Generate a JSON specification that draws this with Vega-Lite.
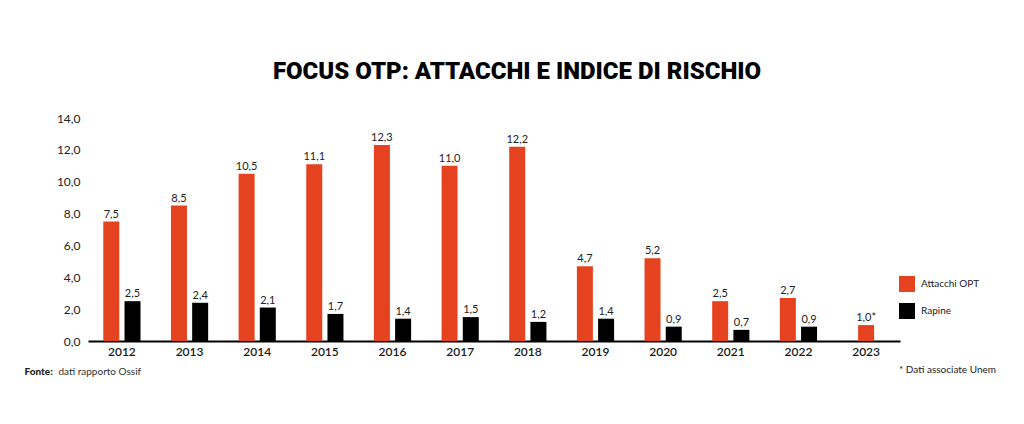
{
  "$schema": "https://vega.github.io/schema/vega-lite/v6.json",
  "autosize": {"type": "none"},
  "padding": {"left": 88, "top": 118, "right": 124, "bottom": 83},
  "width": 812,
  "height": 223,
  "background": "white",
  "title": {
    "text": "FOCUS OTP: ATTACCHI E INDICE DI RISCHIO",
    "font": "Roboto",
    "fontWeight": 900,
    "fontSize": 24,
    "letterSpacing": 0.5,
    "color": "#000000",
    "anchor": "middle",
    "dx": 23,
    "offset": 28
  },
  "data": {
    "values": [
      {"year": "2012", "series": "Attacchi OPT", "value": 7.5},
      {"year": "2012", "series": "Rapine", "value": 2.5},
      {"year": "2013", "series": "Attacchi OPT", "value": 8.5},
      {"year": "2013", "series": "Rapine", "value": 2.4},
      {"year": "2014", "series": "Attacchi OPT", "value": 10.5},
      {"year": "2014", "series": "Rapine", "value": 2.1},
      {"year": "2015", "series": "Attacchi OPT", "value": 11.1},
      {"year": "2015", "series": "Rapine", "value": 1.7},
      {"year": "2016", "series": "Attacchi OPT", "value": 12.3},
      {"year": "2016", "series": "Rapine", "value": 1.4},
      {"year": "2017", "series": "Attacchi OPT", "value": 11.0},
      {"year": "2017", "series": "Rapine", "value": 1.5},
      {"year": "2018", "series": "Attacchi OPT", "value": 12.2},
      {"year": "2018", "series": "Rapine", "value": 1.2},
      {"year": "2019", "series": "Attacchi OPT", "value": 4.7},
      {"year": "2019", "series": "Rapine", "value": 1.4},
      {"year": "2020", "series": "Attacchi OPT", "value": 5.2},
      {"year": "2020", "series": "Rapine", "value": 0.9},
      {"year": "2021", "series": "Attacchi OPT", "value": 2.5},
      {"year": "2021", "series": "Rapine", "value": 0.7},
      {"year": "2022", "series": "Attacchi OPT", "value": 2.7},
      {"year": "2022", "series": "Rapine", "value": 0.9},
      {"year": "2023", "series": "Attacchi OPT", "value": 1.0, "note": "*"}
    ]
  },
  "transform": [
    {"calculate": "replace(format(datum.value, '.1f'), '.', ',') + (datum.note ? datum.note : '')", "as": "label"}
  ],
  "encoding": {
    "x": {
      "field": "year",
      "type": "nominal",
      "sort": null,
      "scale": {"paddingInner": 0.45, "paddingOuter": 0.226},
      "axis": {
        "title": "dati rapporto Ossif",
        "titleX": -30,
        "titleY": 33,
        "titleAlign": "left",
        "titleAnchor": null,
        "titleBaseline": "alphabetic",
        "titleFont": "Lato",
        "titleFontSize": 10,
        "titleFontWeight": "normal",
        "titleColor": "#333333",
        "labelAngle": 0,
        "labelFont": "Lato",
        "labelFontSize": 12,
        "labelFontWeight": 600,
        "labelColor": "#1a1a1a",
        "labelPadding": 5,
        "ticks": false,
        "domain": true,
        "domainColor": "#000000",
        "domainWidth": 2,
        "grid": false
      }
    },
    "y": {
      "field": "value",
      "type": "quantitative",
      "scale": {"domain": [0, 14], "nice": false},
      "axis": {
        "title": "Fonte:",
        "titleAngle": 0,
        "titleX": -64,
        "titleY": 256,
        "titleAlign": "left",
        "titleAnchor": null,
        "titleBaseline": "alphabetic",
        "titleFont": "Lato",
        "titleFontSize": 10,
        "titleFontWeight": 900,
        "titleColor": "#222222",
        "values": [0, 2, 4, 6, 8, 10, 12, 14],
        "labelExpr": "replace(format(datum.value, '.1f'), '.', ',')",
        "labelFont": "Lato",
        "labelFontSize": 12,
        "labelColor": "#222222",
        "labelPadding": 8,
        "ticks": false,
        "domain": false,
        "grid": false
      }
    }
  },
  "layer": [
    {
      "transform": [{"filter": "datum.year != '2023'"}],
      "mark": {"type": "bar"},
      "encoding": {
        "xOffset": {"field": "series", "type": "nominal", "scale": {"paddingInner": 0.245, "paddingOuter": 0}},
        "color": {
          "field": "series",
          "type": "nominal",
          "scale": {"domain": ["Attacchi OPT", "Rapine"], "range": ["#E5431F", "#000000"]},
          "legend": {
            "orient": "none",
            "legendX": 811,
            "legendY": 158,
            "title": "* Dati associate Unem",
            "titleOrient": "bottom",
            "titlePadding": 46,
            "titleFont": "Lato",
            "titleFontSize": 10,
            "titleFontWeight": "normal",
            "titleColor": "#222222",
            "symbolType": "square",
            "symbolSize": 256,
            "symbolStrokeWidth": 0,
            "symbolOpacity": 1,
            "labelFont": "Lato",
            "labelFontSize": 10,
            "labelColor": "#222222",
            "labelOffset": 6,
            "rowPadding": 11,
            "padding": 0
          }
        }
      }
    },
    {
      "transform": [{"filter": "datum.year != '2023'"}],
      "mark": {"type": "text", "baseline": "bottom", "dy": -2, "font": "Lato", "fontSize": 11, "color": "#222222"},
      "encoding": {
        "xOffset": {"field": "series", "type": "nominal"},
        "text": {"field": "label"}
      }
    },
    {
      "transform": [{"filter": "datum.year == '2023'"}],
      "mark": {"type": "bar", "width": 16},
      "encoding": {
        "color": {"field": "series", "type": "nominal"}
      }
    },
    {
      "transform": [{"filter": "datum.year == '2023'"}],
      "mark": {"type": "text", "baseline": "bottom", "dy": -2, "font": "Lato", "fontSize": 11, "color": "#222222"},
      "encoding": {
        "text": {"field": "label"}
      }
    }
  ],
  "config": {
    "view": {"stroke": null}
  }
}
